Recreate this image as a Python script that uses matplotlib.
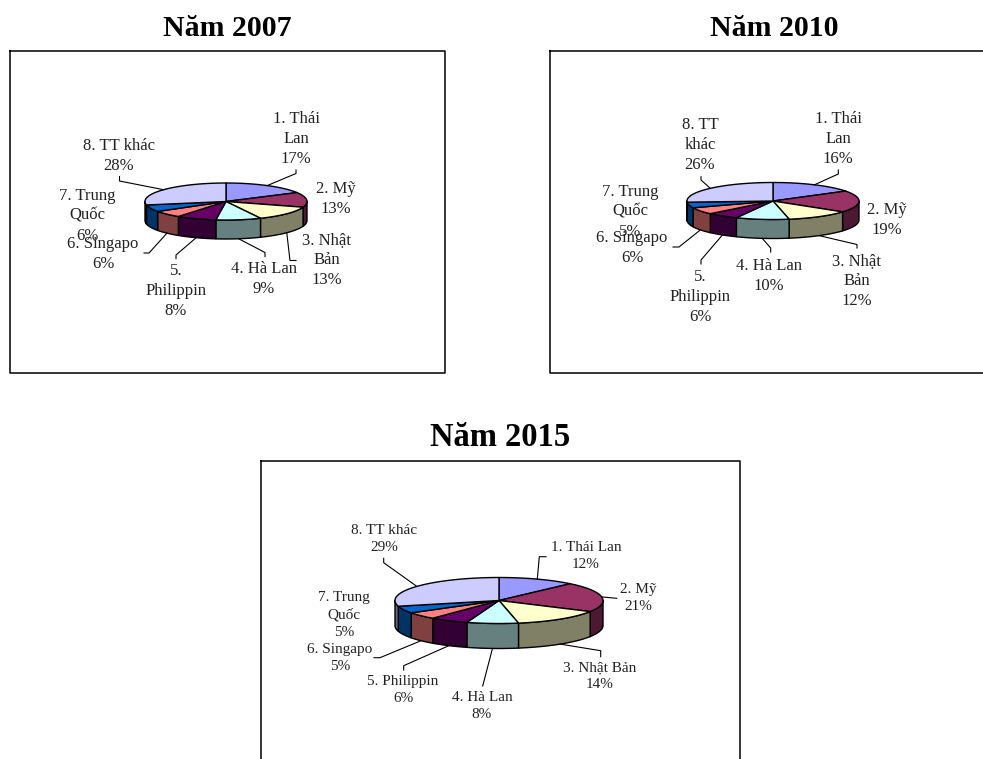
import numpy as np
import matplotlib
matplotlib.use("Agg")
import matplotlib.pyplot as plt

plt.rcParams["font.family"] = ["Liberation Serif", "DejaVu Serif"]

years = ["Năm 2007", "Năm 2010", "Năm 2015"]
shares_2007 = [17, 13, 13, 9, 8, 6, 6, 28]
shares_2010 = [16, 19, 12, 10, 6, 6, 5, 26]
shares_2015 = [12, 21, 14, 8, 6, 5, 5, 29]

labels_2007 = ["1. Thái\nLan", "2. Mỹ", "3. Nhật\nBản", "4. Hà Lan", "5.\nPhilippin",
               "6. Singapo", "7. Trung\nQuốc", "8. TT khác"]
labels_2010 = ["1. Thái\nLan", "2. Mỹ", "3. Nhật\nBản", "4. Hà Lan", "5.\nPhilippin",
               "6. Singapo", "7. Trung\nQuốc", "8. TT\nkhác"]
labels_2015 = ["1. Thái Lan", "2. Mỹ", "3. Nhật Bản", "4. Hà Lan", "5. Philippin",
               "6. Singapo", "7. Trung\nQuốc", "8. TT khác"]

top_colors = ["#9999FF", "#993366", "#FFFFCC", "#CCFFFF", "#660066", "#FF8080", "#0066CC", "#CCCCFF"]
side_colors = ["#4C4C80", "#4C1933", "#808066", "#668080", "#330033", "#804040", "#003366", "#666680"]

# layout, in pixels of the 983x759 page
label_pos_2007 = [(296, 139), (336, 199), (327, 260), (264, 279), (176, 291), (103, 254), (87, 216), (119, 156)]
label_pos_2010 = [(838, 139), (887, 220), (857, 281), (769, 276), (700, 297), (632, 248), (630, 212), (700, 145)]
label_pos_2015 = [(586, 556), (638, 598), (600, 676), (482, 706), (403, 690), (340, 658), (344, 615), (384, 539)]

leaders_2007 = [[(296, 173.5), (296, 170)], None, [(290, 260.5), (296, 260.5)], [(265, 252.5), (265, 256.5)],
                [(176, 255), (176, 258.5)], [(149, 253), (144, 253)], None, [(119.5, 181), (119.5, 176.5)]]
leaders_2010 = [[(838.3, 174), (838.3, 170)], None, [(857, 244.5), (857, 248)], [(770.7, 248), (770.7, 252)],
                [(701, 260), (701, 264)], [(679, 247), (673, 247)], None, [(701, 180), (701, 176.7)]]
leaders_2015 = [[(539.3, 556.7), (546, 556.7)], [(616.7, 598.3)], [(600.7, 650.7), (600.7, 656.7)], [(482.7, 686)],
                [(403.7, 665.7), (403.7, 670)], [(380, 657.7), (374, 657.7)], None, [(383.7, 562.7), (383.7, 558.3)]]


def rim(cx, cy, rx, ry, t):
    t = np.radians(t)
    return cx + rx * np.sin(t), cy - ry * np.cos(t)


def pie3d(ax, shares, cx, cy, rx, ry, depth):
    edges = np.cumsum([0] + shares) / sum(shares) * 360
    # side walls first, only the part of each slice facing the viewer
    for i in range(len(shares)):
        a, b = max(edges[i], 90), min(edges[i + 1], 270)
        if a >= b:
            continue
        x, y = rim(cx, cy, rx, ry, np.linspace(a, b, 60))
        ax.fill(np.r_[x, x[::-1]], np.r_[y, y[::-1] + depth], fc=side_colors[i], ec="black", lw=1.0, joinstyle="round")
    for i in range(len(shares)):
        x, y = rim(cx, cy, rx, ry, np.linspace(edges[i], edges[i + 1], 80))
        ax.fill(np.r_[cx, x], np.r_[cy, y], fc=top_colors[i], ec="black", lw=1.0, joinstyle="round")
    return edges


def panel(ax, frame, title, title_pos, title_size, shares, labels, label_pos, leaders, geom, size, spacing):
    x0, y0, x1, y1 = frame
    ax.plot([x0, x1, x1, x0, x0], [y0, y0, y1, y1, y0], color="black", lw=1.1, clip_on=True)
    ax.text(*title_pos, title, ha="center", va="center", fontsize=title_size, fontweight="bold")
    cx, cy, rx, ry, depth = geom
    edges = pie3d(ax, shares, cx, cy, rx, ry, depth)
    for i, s in enumerate(shares):
        mid = (edges[i] + edges[i + 1]) / 2
        if leaders[i] is not None:
            sx, sy = rim(cx, cy, rx, ry, mid)
            if 90 < mid < 270:
                sy += depth
            xs = [sx] + [p[0] for p in leaders[i]]
            ys = [sy] + [p[1] for p in leaders[i]]
            ax.plot(xs, ys, color="black", lw=0.8)
        ax.text(*label_pos[i], f"{labels[i]}\n{s}%", ha="center", va="center", fontsize=size,
                linespacing=spacing, color="#222222")


fig = plt.figure(figsize=(9.83, 7.59), dpi=100)
ax = fig.add_axes([0, 0, 1, 1])
ax.set_xlim(0, 983)
ax.set_ylim(759, 0)
ax.axis("off")

panel(ax, (9.5, 51, 445, 373), years[0], (227, 29), 21.5, shares_2007, labels_2007, label_pos_2007,
      leaders_2007, (226, 201.5, 81, 18.5, 19), 12, 1.3)
panel(ax, (550, 51, 990, 373), years[1], (774, 29), 21.5, shares_2010, labels_2010, label_pos_2010,
      leaders_2010, (773, 201, 86, 18.5, 19), 12, 1.3)
panel(ax, (260.5, 461, 740, 770), years[2], (500, 438), 23.5, shares_2015, labels_2015, label_pos_2015,
      leaders_2015, (499, 600.5, 104, 23, 25), 11, 1.37)

fig.savefig("out.png", dpi=100)
